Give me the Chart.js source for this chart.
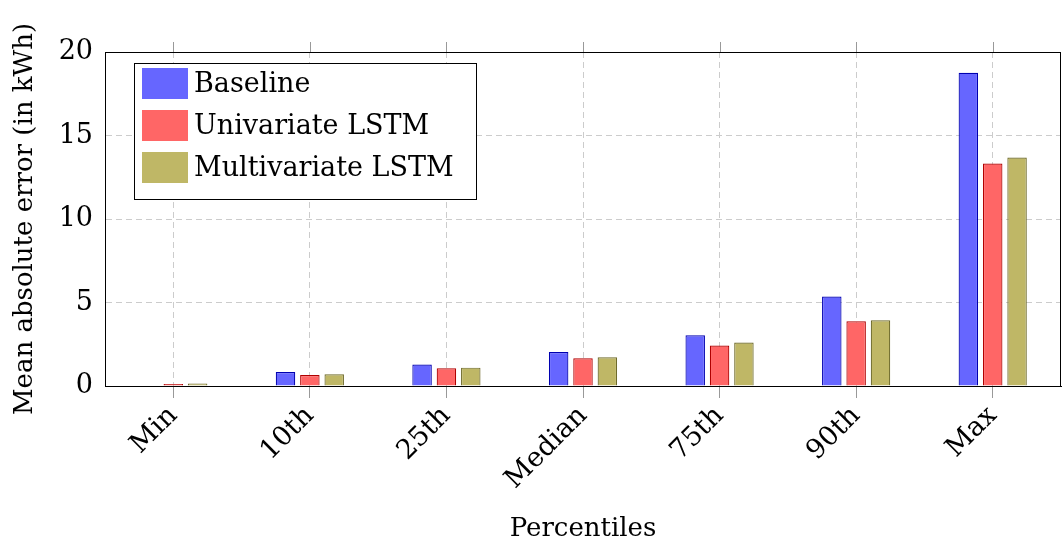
<!DOCTYPE html>
<html>
<head>
<meta charset="utf-8">
<script src="https://cdn.jsdelivr.net/npm/chart.js@4"></script>
<style>
html, body { margin: 0; padding: 0; background: #fff; }
</style>
</head>
<body>
<canvas id="chart" width="1062" height="545"></canvas>
<script>
const percentiles = ['Min', '10th', '25th', 'Median', '75th', '90th', 'Max'];
const baseline = [0.03, 0.84, 1.28, 2.04, 3.04, 5.36, 18.76];
const univariate = [0.12, 0.66, 1.06, 1.66, 2.42, 3.88, 13.32];
const multivariate = [0.15, 0.70, 1.10, 1.72, 2.60, 3.94, 13.68];
const yTicks = [0, 5, 10, 15, 20];

const font = '"DejaVu Serif", serif';

// legend box inside the plot + closed frame like pgfplots
const frameAndLegend = {
  id: 'frameAndLegend',
  afterDraw(chart) {
    const ctx = chart.ctx;
    const area = chart.chartArea;
    ctx.save();

    // frame
    ctx.strokeStyle = '#000';
    ctx.lineWidth = 1;
    ctx.strokeRect(area.left + 0.5, area.top + 0.5, area.right - area.left - 1, area.bottom - area.top);

    // small ticks above the top border
    const xs = chart.scales.x;
    ctx.strokeStyle = '#999';
    xs.ticks.forEach(function(t, i) {
      const px = Math.round(xs.getPixelForTick(i)) + 0.5;
      ctx.beginPath();
      ctx.moveTo(px, area.top - 10);
      ctx.lineTo(px, area.top);
      ctx.stroke();
    });

    // legend
    const x = area.left + 29, y = area.top + 11;
    ctx.fillStyle = '#fff';
    ctx.fillRect(x, y, 342, 136);
    ctx.strokeStyle = '#000';
    ctx.strokeRect(x + 0.5, y + 0.5, 342, 136);
    ctx.font = '27px ' + font;
    ctx.textBaseline = 'middle';
    chart.data.datasets.forEach(function(ds, i) {
      const ry = y + 5 + i * 42;
      ctx.fillStyle = ds.backgroundColor;
      ctx.fillRect(x + 8, ry, 46, 31);
      ctx.fillStyle = '#000';
      ctx.fillText(ds.label, x + 60, ry + 17);
    });
    ctx.restore();
  }
};

new Chart(document.getElementById('chart'), {
  type: 'bar',
  data: {
    labels: percentiles,
    datasets: [
      { label: 'Baseline', data: baseline, backgroundColor: '#6666ff', borderColor: '#0000b0', borderWidth: 1.2 },
      { label: 'Univariate LSTM', data: univariate, backgroundColor: '#ff6666', borderColor: '#b00000', borderWidth: 1.2 },
      { label: 'Multivariate LSTM', data: multivariate, backgroundColor: '#bfb766', borderColor: '#6e6a2a', borderWidth: 1.2 }
    ]
  },
  options: {
    responsive: false,
    animation: false,
    layout: { padding: { top: 52, right: 1, left: 0, bottom: 0 } },
    datasets: { bar: { categoryPercentage: 0.535, barPercentage: 0.8 } },
    plugins: {
      legend: { display: false },
      tooltip: { enabled: false }
    },
    scales: {
      x: {
        grid: {
          offset: false,
          color: '#cccccc',
          tickColor: '#999',
          tickLength: 12,
          tickBorderDash: []
        },
        border: { display: true, color: '#000', width: 1, dash: [6, 4] },
        ticks: {
          font: { family: font, size: 27 },
          color: '#000',
          maxRotation: 45,
          minRotation: 45,
          padding: 2
        },
        title: {
          display: true,
          text: 'Percentiles',
          font: { family: font, size: 26 },
          color: '#000',
          padding: { top: 0, bottom: 0 }
        },
        afterFit: function(scale) { scale.height = 159; }
      },
      y: {
        min: 0,
        max: 20,
        afterBuildTicks: function(scale) {
          scale.ticks = yTicks.map(function(v) { return { value: v }; });
        },
        grid: { color: '#cccccc', drawTicks: false },
        border: { display: true, color: '#000', width: 1, dash: [6, 4] },
        ticks: {
          font: { family: font, size: 27 },
          color: '#000',
          padding: 12
        },
        title: {
          display: true,
          text: 'Mean absolute error (in kWh)',
          font: { family: font, size: 26 },
          color: '#000',
          padding: { top: 10, bottom: 0 }
        },
        afterFit: function(scale) { scale.width = 105; }
      }
    }
  },
  plugins: [frameAndLegend]
});
</script>
</body>
</html>
